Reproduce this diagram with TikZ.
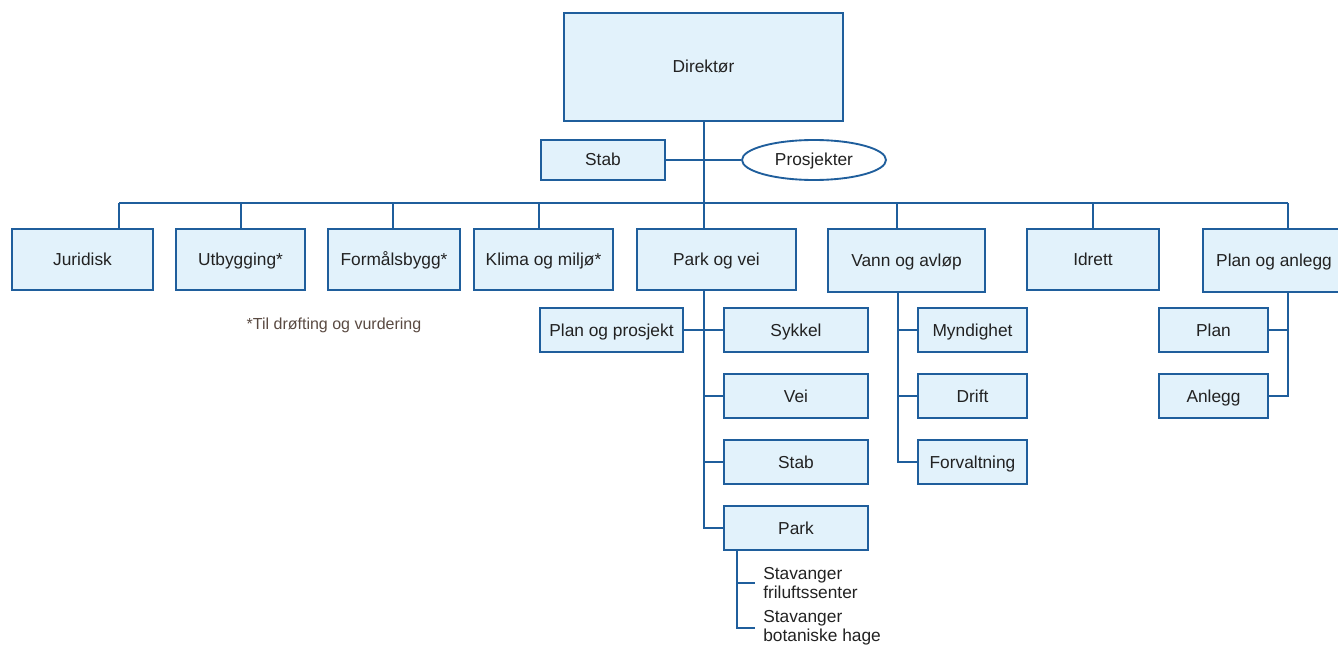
\documentclass[tikz,border=0pt]{standalone}
\usepackage{fontspec}
\setmainfont{Liberation Sans}
\usetikzlibrary{shapes.geometric}
\definecolor{orgline}{HTML}{1F5E9C}
\definecolor{orgfill}{HTML}{E2F2FB}
\definecolor{orgtext}{HTML}{222222}
\definecolor{notetext}{HTML}{5A4A42}
\tikzset{sz/.style 2 args={minimum width=#1*0.75pt, minimum height=#2*0.75pt}}
\begin{document}
\begin{tikzpicture}[
    x=0.75pt, y=-0.75pt,
    font=\fontsize{13}{14}\selectfont,
    unit/.style={rectangle, draw=orgline, fill=orgfill, line width=1.4pt, text=orgtext, inner sep=2pt, text height=10.6pt, text depth=1.6pt},
    oval/.style={ellipse, draw=orgline, fill=white, line width=1.4pt, text=orgtext, inner sep=0pt, text height=10.6pt, text depth=1.6pt},
    link/.style={draw=orgline, line width=1.4pt},
    leaf/.style={anchor=west, align=left, text=orgtext, inner sep=6pt}
]
\clip (0,0) rectangle (1338,645);

% Top: director and staff
\node[unit, sz={279}{108}] (dir) at (703.5,67) {Direktør};
\node[unit, sz={124}{40}] (stab) at (603,160) {Stab};
\node[oval, sz={144}{40}] (proj) at (814,160) {Prosjekter};

% Middle: departments
\node[unit, sz={141}{61}] (jur) at (82.5,259.5) {Juridisk};
\node[unit, sz={129}{61}] (utb) at (240.5,259.5) {Utbygging*};
\node[unit, sz={132}{61}] (form) at (394,259.5) {Formålsbygg*};
\node[unit, sz={139}{61}] (klima) at (543.5,259.5) {Klima og miljø*};
\node[unit, sz={159}{61}] (park) at (716.5,259.5) {Park og vei};
\node[unit, sz={157}{63}] (vann) at (906.5,260.5) {Vann og avløp};
\node[unit, sz={132}{61}] (idrett) at (1093,259.5) {Idrett};
\node[unit, sz={142}{63}] (planan) at (1274,260.5) {Plan og anlegg};

% Note
\node[text=notetext, font=\fontsize{12}{13}\selectfont] (note) at (334,325) {*Til drøfting og vurdering};

% Bottom: Park og vei
\node[unit, sz={143}{44}] (planpro) at (611.5,330) {Plan og prosjekt};
\node[unit, sz={144}{44}] (sykkel) at (796,330) {Sykkel};
\node[unit, sz={144}{44}] (vei) at (796,396) {Vei};
\node[unit, sz={144}{44}] (pvstab) at (796,462) {Stab};
\node[unit, sz={144}{44}] (parkunit) at (796,528) {Park};
\node[leaf] (friluft) at (755,583) {Stavanger\\friluftssenter};
\node[leaf] (botanisk) at (755,628) {Stavanger\\botaniske hage};

% Bottom: Vann og avløp
\node[unit, sz={109}{44}] (myndighet) at (972.5,330) {Myndighet};
\node[unit, sz={109}{44}] (drift) at (972.5,396) {Drift};
\node[unit, sz={109}{44}] (forvalt) at (972.5,462) {Forvaltning};

% Bottom: Plan og anlegg
\node[unit, sz={109}{44}] (plan) at (1213.5,330) {Plan};
\node[unit, sz={109}{44}] (anlegg) at (1213.5,396) {Anlegg};

% Connectors
\coordinate (bus) at (119,203);
\coordinate (trunk) at (704,0);
\coordinate (vannx) at (898,0);
\coordinate (planx) at (1288,0);
\coordinate (parkx) at (737,0);

\draw[link] (trunk |- dir.south) -- (trunk |- park.north);
\draw[link] (stab.east) -- (proj.west);
\draw[link] (bus) -- (planx |- bus);
\foreach \x/\n in {119/jur, 241/utb, 393/form, 539/klima, 897/vann, 1093/idrett, 1288/planan}
    \draw[link] (\x,0 |- bus) -- (\x,0 |- \n.north);

\draw[link] (trunk |- park.south) |- (parkunit.west);
\foreach \n in {sykkel, vei, pvstab}
    \draw[link] (trunk |- \n.west) -- (\n.west);
\draw[link] (planpro.east) -- (sykkel.west);
\draw[link] (parkx |- parkunit.south) |- (botanisk.west);
\draw[link] (parkx |- friluft.west) -- (friluft.west);

\draw[link] (vannx |- vann.south) |- (forvalt.west);
\foreach \n in {myndighet, drift}
    \draw[link] (vannx |- \n.west) -- (\n.west);

\draw[link] (planx |- planan.south) |- (anlegg.east);
\draw[link] (planx |- plan.east) -- (plan.east);

\end{tikzpicture}
\end{document}
